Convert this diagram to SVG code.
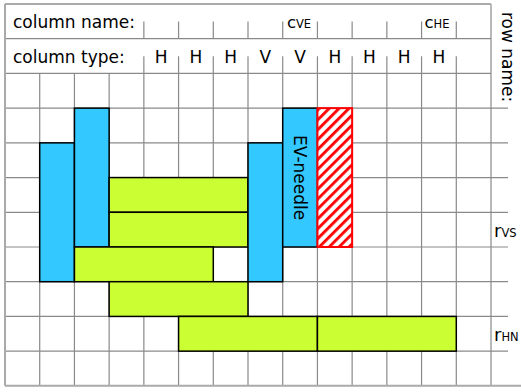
<svg xmlns="http://www.w3.org/2000/svg" width="521" height="392" viewBox="0 0 521 392">
<style>
.g{stroke:#8a8a8a;stroke-width:1.2;fill:none}
.b{stroke:#aaaaaa;stroke-width:2;fill:none}
.t{font-family:"DejaVu Sans",sans-serif;font-size:17px;fill:#000}
.blue{fill:#33c8ff;stroke:#000;stroke-width:1.5}
.green{fill:#ccff33;stroke:#000;stroke-width:1.5}
.hatch{fill:url(#hp);stroke:#ff0000;stroke-width:2}
</style>
<defs>
<pattern id="hp" patternUnits="userSpaceOnUse" width="7" height="7" patternTransform="rotate(45)">
<rect width="7" height="7" fill="#fff"/>
<rect width="2.8" height="7" fill="#ff0000"/>
</pattern>
</defs>
<rect width="521" height="392" fill="#fff"/>
<g id="grid">
<path class="g" d="M39.71 73.43V385.86M74.43 73.43V385.86M109.14 73.43V385.86M143.86 73.43V385.86M178.57 73.43V385.86M213.29 73.43V385.86M248 73.43V385.86M282.71 73.43V385.86M317.43 73.43V385.86M352.14 73.43V385.86M386.86 73.43V385.86M421.57 73.43V385.86M456.29 73.43V385.86M491 4V385.86"/>
<path class="g" d="M143.86 21.5V38.71M178.57 21.5V38.71M213.29 21.5V38.71M248 21.5V38.71M282.71 21.5V38.71M317.43 21.5V38.71M352.14 21.5V38.71M386.86 21.5V38.71M421.57 21.5V38.71M456.29 21.5V38.71"/>
<path class="g" d="M143.86 56.2V73.43M178.57 56.2V73.43M213.29 56.2V73.43M248 56.2V73.43M282.71 56.2V73.43M317.43 56.2V73.43M352.14 56.2V73.43M386.86 56.2V73.43M421.57 56.2V73.43M456.29 56.2V73.43"/>
<path class="g" d="M5 38.71H491M5 73.43H491M5 108.14H508M5 142.86H508M5 177.57H508M5 212.29H508M5 247H508M5 281.71H508M5 316.43H508M5 351.14H508"/>
<path class="b" d="M5 4H491M5 4V385.86M5 385.86H521"/>
</g>
<g id="labels">
<text class="t" x="13" y="28">column name:</text>
<text class="t" x="13" y="63">column type:</text>
<g text-anchor="middle">
<text class="t" x="161.2" y="63">H</text>
<text class="t" x="195.9" y="63">H</text>
<text class="t" x="230.6" y="63">H</text>
<text class="t" x="265.4" y="63">V</text>
<text class="t" x="300.1" y="63">V</text>
<text class="t" x="334.8" y="63">H</text>
<text class="t" x="369.5" y="63">H</text>
<text class="t" x="404.2" y="63">H</text>
<text class="t" x="438.9" y="63">H</text>
<text class="t" x="299" y="28"><tspan font-size="16.5">c</tspan><tspan font-size="11.5">VE</tspan></text>
<text class="t" x="437" y="28"><tspan font-size="16.5">c</tspan><tspan font-size="11.5">HE</tspan></text>
</g>
<text class="t" transform="translate(502,12) rotate(90)">row name:</text>
<text class="t" x="494" y="237"><tspan font-size="18">r</tspan><tspan font-size="11.5">VS</tspan></text>
<text class="t" x="494" y="340.5"><tspan font-size="18">r</tspan><tspan font-size="11.5">HN</tspan></text>
</g>
<g id="node-blue-1"><rect class="blue" x="39.71" y="142.86" width="34.71" height="138.86"/></g>
<g id="node-blue-2"><rect class="blue" x="74.43" y="108.14" width="34.71" height="138.86"/></g>
<g id="node-green-1"><rect class="green" x="109.14" y="177.57" width="138.86" height="34.71"/></g>
<g id="node-green-2"><rect class="green" x="109.14" y="212.29" width="138.86" height="34.71"/></g>
<g id="node-green-3"><rect class="green" x="74.43" y="247" width="138.86" height="34.71"/></g>
<g id="node-green-4"><rect class="green" x="109.14" y="281.71" width="138.86" height="34.71"/></g>
<g id="node-green-5"><rect class="green" x="178.57" y="316.43" width="138.86" height="34.71"/></g>
<g id="node-green-6"><rect class="green" x="317.43" y="316.43" width="138.86" height="34.71"/></g>
<g id="node-blue-3"><rect class="blue" x="248" y="142.86" width="34.71" height="138.86"/></g>
<g id="node-ev-needle"><rect class="blue" x="282.71" y="108.14" width="34.71" height="138.86"/>
<text class="t" text-anchor="middle" transform="translate(294,177.6) rotate(90)">EV-needle</text></g>
<g id="node-hatched"><rect class="hatch" x="317.43" y="108.14" width="34.71" height="138.86"/></g>
<g id="connectors"/>
</svg>
